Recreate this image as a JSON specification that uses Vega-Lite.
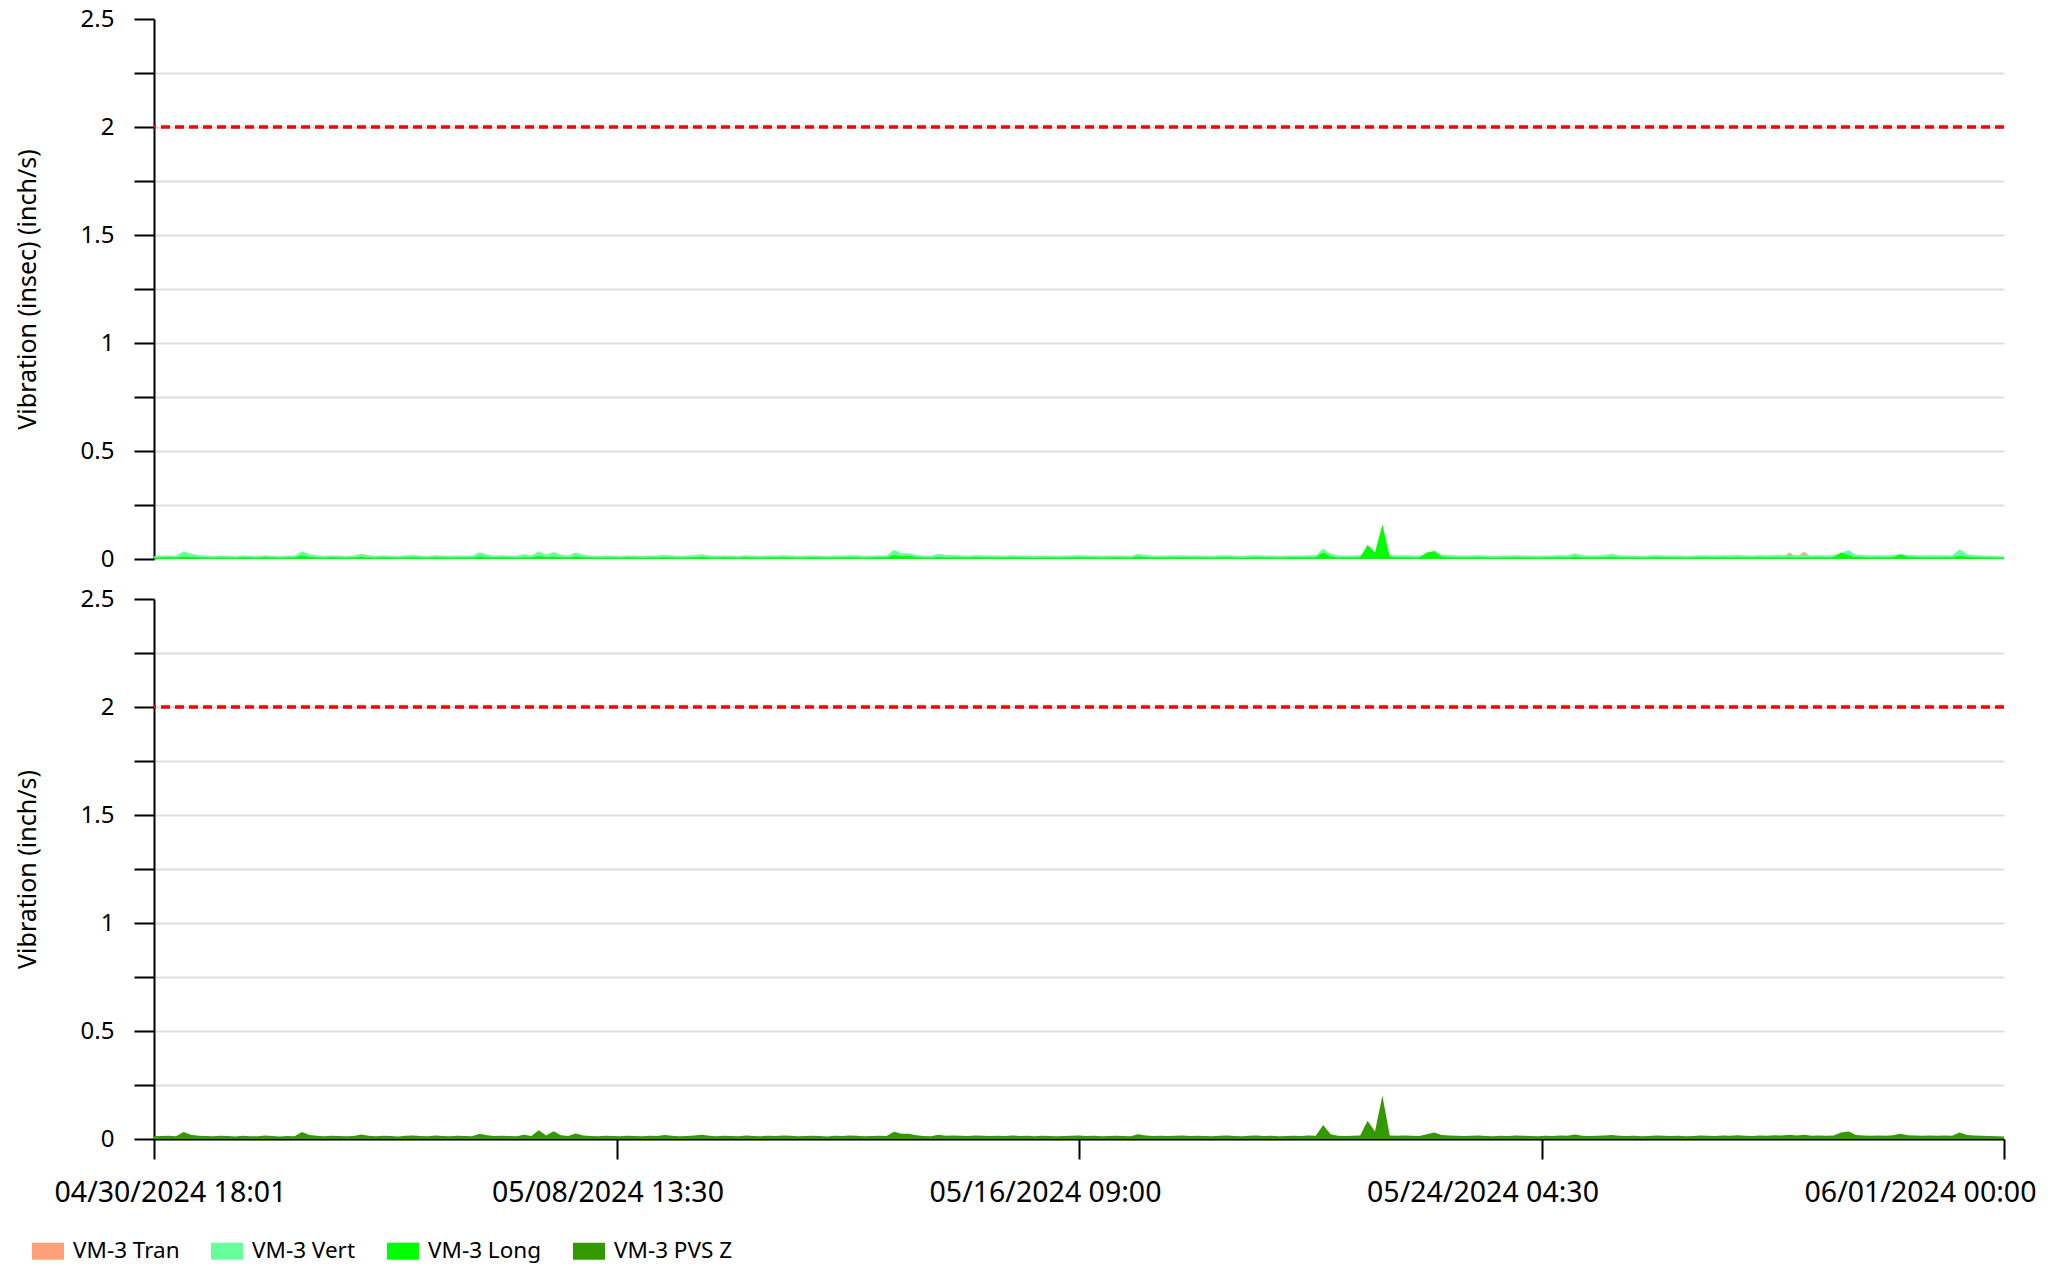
{
"$schema": "https://vega.github.io/schema/vega-lite/v6.json",
"padding": {"left": 15, "top": 7, "right": 5, "bottom": 5},
"config": {"font": "Noto Sans", "view": {"stroke": null}},
"data": {"values": [
{"t":"2024-04-30T18:01Z","a":0.004,"b":0.013,"c":0.007,"d":0.013},
{"t":"2024-04-30T21:00Z","a":0.004,"b":0.015,"c":0.007,"d":0.014},
{"t":"2024-05-01T00:00Z","a":0.005,"b":0.016,"c":0.008,"d":0.015},
{"t":"2024-05-01T03:00Z","a":0.004,"b":0.014,"c":0.007,"d":0.013},
{"t":"2024-05-01T06:00Z","a":0.03,"b":0.036,"c":0.012,"d":0.032},
{"t":"2024-05-01T09:00Z","a":0.008,"b":0.024,"c":0.009,"d":0.02},
{"t":"2024-05-01T12:00Z","a":0.005,"b":0.017,"c":0.008,"d":0.015},
{"t":"2024-05-01T15:00Z","a":0.004,"b":0.015,"c":0.007,"d":0.014},
{"t":"2024-05-01T18:00Z","a":0.004,"b":0.013,"c":0.006,"d":0.013},
{"t":"2024-05-01T21:00Z","a":0.005,"b":0.016,"c":0.007,"d":0.015},
{"t":"2024-05-02T00:00Z","a":0.004,"b":0.015,"c":0.007,"d":0.014},
{"t":"2024-05-02T03:00Z","a":0.004,"b":0.012,"c":0.006,"d":0.012},
{"t":"2024-05-02T06:00Z","a":0.005,"b":0.016,"c":0.008,"d":0.015},
{"t":"2024-05-02T09:00Z","a":0.004,"b":0.014,"c":0.007,"d":0.013},
{"t":"2024-05-02T12:00Z","a":0.004,"b":0.013,"c":0.006,"d":0.013},
{"t":"2024-05-02T15:00Z","a":0.005,"b":0.017,"c":0.008,"d":0.016},
{"t":"2024-05-02T18:00Z","a":0.004,"b":0.014,"c":0.007,"d":0.014},
{"t":"2024-05-02T21:00Z","a":0.004,"b":0.013,"c":0.006,"d":0.012},
{"t":"2024-05-03T00:00Z","a":0.004,"b":0.015,"c":0.007,"d":0.014},
{"t":"2024-05-03T03:00Z","a":0.004,"b":0.014,"c":0.007,"d":0.013},
{"t":"2024-05-03T06:00Z","a":0.006,"b":0.036,"c":0.016,"d":0.032},
{"t":"2024-05-03T09:00Z","a":0.005,"b":0.022,"c":0.009,"d":0.019},
{"t":"2024-05-03T12:00Z","a":0.004,"b":0.016,"c":0.007,"d":0.015},
{"t":"2024-05-03T15:00Z","a":0.004,"b":0.014,"c":0.006,"d":0.013},
{"t":"2024-05-03T18:00Z","a":0.005,"b":0.016,"c":0.008,"d":0.015},
{"t":"2024-05-03T21:00Z","a":0.004,"b":0.015,"c":0.007,"d":0.014},
{"t":"2024-05-04T00:00Z","a":0.004,"b":0.013,"c":0.006,"d":0.013},
{"t":"2024-05-04T03:00Z","a":0.004,"b":0.015,"c":0.007,"d":0.014},
{"t":"2024-05-04T06:00Z","a":0.005,"b":0.024,"c":0.009,"d":0.021},
{"t":"2024-05-04T09:00Z","a":0.004,"b":0.017,"c":0.007,"d":0.015},
{"t":"2024-05-04T12:00Z","a":0.004,"b":0.014,"c":0.006,"d":0.013},
{"t":"2024-05-04T15:00Z","a":0.005,"b":0.016,"c":0.008,"d":0.015},
{"t":"2024-05-04T18:00Z","a":0.004,"b":0.015,"c":0.007,"d":0.014},
{"t":"2024-05-04T21:00Z","a":0.004,"b":0.013,"c":0.006,"d":0.012},
{"t":"2024-05-05T00:00Z","a":0.004,"b":0.016,"c":0.007,"d":0.015},
{"t":"2024-05-05T03:00Z","a":0.005,"b":0.018,"c":0.008,"d":0.016},
{"t":"2024-05-05T06:00Z","a":0.004,"b":0.015,"c":0.007,"d":0.014},
{"t":"2024-05-05T09:00Z","a":0.004,"b":0.013,"c":0.006,"d":0.013},
{"t":"2024-05-05T12:00Z","a":0.005,"b":0.017,"c":0.008,"d":0.016},
{"t":"2024-05-05T15:00Z","a":0.004,"b":0.015,"c":0.007,"d":0.014},
{"t":"2024-05-05T18:00Z","a":0.004,"b":0.014,"c":0.006,"d":0.013},
{"t":"2024-05-05T21:00Z","a":0.005,"b":0.016,"c":0.007,"d":0.015},
{"t":"2024-05-06T00:00Z","a":0.004,"b":0.015,"c":0.007,"d":0.014},
{"t":"2024-05-06T03:00Z","a":0.004,"b":0.014,"c":0.007,"d":0.013},
{"t":"2024-05-06T06:00Z","a":0.005,"b":0.031,"c":0.012,"d":0.024},
{"t":"2024-05-06T09:00Z","a":0.004,"b":0.02,"c":0.008,"d":0.017},
{"t":"2024-05-06T12:00Z","a":0.004,"b":0.015,"c":0.007,"d":0.014},
{"t":"2024-05-06T15:00Z","a":0.005,"b":0.017,"c":0.008,"d":0.015},
{"t":"2024-05-06T18:00Z","a":0.004,"b":0.015,"c":0.007,"d":0.014},
{"t":"2024-05-06T21:00Z","a":0.004,"b":0.014,"c":0.006,"d":0.013},
{"t":"2024-05-07T00:00Z","a":0.004,"b":0.022,"c":0.008,"d":0.02},
{"t":"2024-05-07T03:00Z","a":0.004,"b":0.015,"c":0.007,"d":0.014},
{"t":"2024-05-07T06:00Z","a":0.005,"b":0.036,"c":0.014,"d":0.04},
{"t":"2024-05-07T09:00Z","a":0.004,"b":0.018,"c":0.008,"d":0.016},
{"t":"2024-05-07T12:00Z","a":0.005,"b":0.032,"c":0.012,"d":0.036},
{"t":"2024-05-07T15:00Z","a":0.004,"b":0.019,"c":0.008,"d":0.017},
{"t":"2024-05-07T18:00Z","a":0.004,"b":0.015,"c":0.007,"d":0.014},
{"t":"2024-05-07T21:00Z","a":0.005,"b":0.03,"c":0.011,"d":0.025},
{"t":"2024-05-08T00:00Z","a":0.004,"b":0.018,"c":0.008,"d":0.016},
{"t":"2024-05-08T03:00Z","a":0.004,"b":0.015,"c":0.007,"d":0.014},
{"t":"2024-05-08T06:00Z","a":0.004,"b":0.014,"c":0.006,"d":0.013},
{"t":"2024-05-08T09:00Z","a":0.005,"b":0.016,"c":0.007,"d":0.015},
{"t":"2024-05-08T12:00Z","a":0.004,"b":0.015,"c":0.007,"d":0.014},
{"t":"2024-05-08T15:00Z","a":0.004,"b":0.013,"c":0.006,"d":0.013},
{"t":"2024-05-08T18:00Z","a":0.005,"b":0.016,"c":0.008,"d":0.015},
{"t":"2024-05-08T21:00Z","a":0.004,"b":0.015,"c":0.007,"d":0.014},
{"t":"2024-05-09T00:00Z","a":0.004,"b":0.014,"c":0.006,"d":0.013},
{"t":"2024-05-09T03:00Z","a":0.005,"b":0.016,"c":0.007,"d":0.015},
{"t":"2024-05-09T06:00Z","a":0.004,"b":0.015,"c":0.007,"d":0.014},
{"t":"2024-05-09T09:00Z","a":0.012,"b":0.02,"c":0.008,"d":0.018},
{"t":"2024-05-09T12:00Z","a":0.005,"b":0.016,"c":0.007,"d":0.015},
{"t":"2024-05-09T15:00Z","a":0.004,"b":0.014,"c":0.006,"d":0.013},
{"t":"2024-05-09T18:00Z","a":0.004,"b":0.015,"c":0.007,"d":0.014},
{"t":"2024-05-09T21:00Z","a":0.005,"b":0.017,"c":0.008,"d":0.016},
{"t":"2024-05-10T00:00Z","a":0.004,"b":0.022,"c":0.009,"d":0.02},
{"t":"2024-05-10T03:00Z","a":0.004,"b":0.016,"c":0.007,"d":0.015},
{"t":"2024-05-10T06:00Z","a":0.004,"b":0.014,"c":0.006,"d":0.013},
{"t":"2024-05-10T09:00Z","a":0.005,"b":0.016,"c":0.008,"d":0.015},
{"t":"2024-05-10T12:00Z","a":0.004,"b":0.015,"c":0.007,"d":0.014},
{"t":"2024-05-10T15:00Z","a":0.004,"b":0.013,"c":0.006,"d":0.013},
{"t":"2024-05-10T18:00Z","a":0.005,"b":0.017,"c":0.008,"d":0.016},
{"t":"2024-05-10T21:00Z","a":0.004,"b":0.015,"c":0.007,"d":0.014},
{"t":"2024-05-11T00:00Z","a":0.004,"b":0.014,"c":0.006,"d":0.013},
{"t":"2024-05-11T03:00Z","a":0.005,"b":0.016,"c":0.007,"d":0.015},
{"t":"2024-05-11T06:00Z","a":0.004,"b":0.015,"c":0.007,"d":0.014},
{"t":"2024-05-11T09:00Z","a":0.004,"b":0.017,"c":0.008,"d":0.016},
{"t":"2024-05-11T12:00Z","a":0.005,"b":0.016,"c":0.007,"d":0.015},
{"t":"2024-05-11T15:00Z","a":0.004,"b":0.014,"c":0.006,"d":0.013},
{"t":"2024-05-11T18:00Z","a":0.004,"b":0.015,"c":0.007,"d":0.014},
{"t":"2024-05-11T21:00Z","a":0.005,"b":0.016,"c":0.008,"d":0.015},
{"t":"2024-05-12T00:00Z","a":0.004,"b":0.015,"c":0.007,"d":0.014},
{"t":"2024-05-12T03:00Z","a":0.004,"b":0.013,"c":0.006,"d":0.012},
{"t":"2024-05-12T06:00Z","a":0.005,"b":0.016,"c":0.007,"d":0.015},
{"t":"2024-05-12T09:00Z","a":0.004,"b":0.015,"c":0.007,"d":0.014},
{"t":"2024-05-12T12:00Z","a":0.004,"b":0.017,"c":0.008,"d":0.016},
{"t":"2024-05-12T15:00Z","a":0.005,"b":0.016,"c":0.007,"d":0.015},
{"t":"2024-05-12T18:00Z","a":0.004,"b":0.014,"c":0.006,"d":0.013},
{"t":"2024-05-12T21:00Z","a":0.004,"b":0.015,"c":0.007,"d":0.014},
{"t":"2024-05-13T00:00Z","a":0.005,"b":0.016,"c":0.008,"d":0.015},
{"t":"2024-05-13T03:00Z","a":0.004,"b":0.015,"c":0.007,"d":0.014},
{"t":"2024-05-13T06:00Z","a":0.005,"b":0.042,"c":0.018,"d":0.034},
{"t":"2024-05-13T09:00Z","a":0.005,"b":0.027,"c":0.011,"d":0.024},
{"t":"2024-05-13T12:00Z","a":0.005,"b":0.027,"c":0.015,"d":0.024},
{"t":"2024-05-13T15:00Z","a":0.004,"b":0.019,"c":0.008,"d":0.017},
{"t":"2024-05-13T18:00Z","a":0.004,"b":0.015,"c":0.007,"d":0.014},
{"t":"2024-05-13T21:00Z","a":0.004,"b":0.014,"c":0.006,"d":0.013},
{"t":"2024-05-14T00:00Z","a":0.005,"b":0.024,"c":0.009,"d":0.02},
{"t":"2024-05-14T03:00Z","a":0.004,"b":0.017,"c":0.007,"d":0.015},
{"t":"2024-05-14T06:00Z","a":0.004,"b":0.018,"c":0.008,"d":0.016},
{"t":"2024-05-14T09:00Z","a":0.005,"b":0.016,"c":0.007,"d":0.015},
{"t":"2024-05-14T12:00Z","a":0.004,"b":0.015,"c":0.007,"d":0.014},
{"t":"2024-05-14T15:00Z","a":0.004,"b":0.017,"c":0.008,"d":0.016},
{"t":"2024-05-14T18:00Z","a":0.005,"b":0.016,"c":0.007,"d":0.015},
{"t":"2024-05-14T21:00Z","a":0.004,"b":0.015,"c":0.007,"d":0.014},
{"t":"2024-05-15T00:00Z","a":0.004,"b":0.016,"c":0.007,"d":0.015},
{"t":"2024-05-15T03:00Z","a":0.005,"b":0.015,"c":0.007,"d":0.014},
{"t":"2024-05-15T06:00Z","a":0.004,"b":0.017,"c":0.008,"d":0.016},
{"t":"2024-05-15T09:00Z","a":0.004,"b":0.015,"c":0.007,"d":0.014},
{"t":"2024-05-15T12:00Z","a":0.005,"b":0.016,"c":0.007,"d":0.015},
{"t":"2024-05-15T15:00Z","a":0.004,"b":0.014,"c":0.006,"d":0.013},
{"t":"2024-05-15T18:00Z","a":0.004,"b":0.016,"c":0.007,"d":0.015},
{"t":"2024-05-15T21:00Z","a":0.005,"b":0.015,"c":0.007,"d":0.014},
{"t":"2024-05-16T00:00Z","a":0.004,"b":0.014,"c":0.006,"d":0.013},
{"t":"2024-05-16T03:00Z","a":0.004,"b":0.015,"c":0.007,"d":0.014},
{"t":"2024-05-16T06:00Z","a":0.005,"b":0.016,"c":0.007,"d":0.015},
{"t":"2024-05-16T09:00Z","a":0.004,"b":0.017,"c":0.008,"d":0.016},
{"t":"2024-05-16T12:00Z","a":0.004,"b":0.015,"c":0.007,"d":0.014},
{"t":"2024-05-16T15:00Z","a":0.005,"b":0.016,"c":0.007,"d":0.015},
{"t":"2024-05-16T18:00Z","a":0.004,"b":0.014,"c":0.006,"d":0.013},
{"t":"2024-05-16T21:00Z","a":0.004,"b":0.015,"c":0.007,"d":0.014},
{"t":"2024-05-17T00:00Z","a":0.005,"b":0.016,"c":0.008,"d":0.015},
{"t":"2024-05-17T03:00Z","a":0.004,"b":0.015,"c":0.007,"d":0.014},
{"t":"2024-05-17T06:00Z","a":0.004,"b":0.014,"c":0.006,"d":0.013},
{"t":"2024-05-17T09:00Z","a":0.005,"b":0.024,"c":0.012,"d":0.022},
{"t":"2024-05-17T12:00Z","a":0.004,"b":0.017,"c":0.008,"d":0.016},
{"t":"2024-05-17T15:00Z","a":0.004,"b":0.015,"c":0.007,"d":0.014},
{"t":"2024-05-17T18:00Z","a":0.005,"b":0.016,"c":0.007,"d":0.015},
{"t":"2024-05-17T21:00Z","a":0.004,"b":0.015,"c":0.007,"d":0.014},
{"t":"2024-05-18T00:00Z","a":0.004,"b":0.016,"c":0.007,"d":0.015},
{"t":"2024-05-18T03:00Z","a":0.005,"b":0.017,"c":0.008,"d":0.016},
{"t":"2024-05-18T06:00Z","a":0.004,"b":0.015,"c":0.007,"d":0.014},
{"t":"2024-05-18T09:00Z","a":0.004,"b":0.016,"c":0.007,"d":0.015},
{"t":"2024-05-18T12:00Z","a":0.005,"b":0.015,"c":0.007,"d":0.014},
{"t":"2024-05-18T15:00Z","a":0.004,"b":0.014,"c":0.006,"d":0.013},
{"t":"2024-05-18T18:00Z","a":0.004,"b":0.016,"c":0.007,"d":0.015},
{"t":"2024-05-18T21:00Z","a":0.005,"b":0.017,"c":0.008,"d":0.016},
{"t":"2024-05-19T00:00Z","a":0.004,"b":0.015,"c":0.007,"d":0.014},
{"t":"2024-05-19T03:00Z","a":0.004,"b":0.014,"c":0.006,"d":0.013},
{"t":"2024-05-19T06:00Z","a":0.005,"b":0.016,"c":0.007,"d":0.015},
{"t":"2024-05-19T09:00Z","a":0.004,"b":0.017,"c":0.008,"d":0.016},
{"t":"2024-05-19T12:00Z","a":0.004,"b":0.015,"c":0.007,"d":0.014},
{"t":"2024-05-19T15:00Z","a":0.005,"b":0.016,"c":0.007,"d":0.015},
{"t":"2024-05-19T18:00Z","a":0.004,"b":0.014,"c":0.006,"d":0.013},
{"t":"2024-05-19T21:00Z","a":0.004,"b":0.015,"c":0.007,"d":0.014},
{"t":"2024-05-20T00:00Z","a":0.005,"b":0.016,"c":0.008,"d":0.015},
{"t":"2024-05-20T03:00Z","a":0.004,"b":0.015,"c":0.007,"d":0.014},
{"t":"2024-05-20T06:00Z","a":0.004,"b":0.017,"c":0.008,"d":0.016},
{"t":"2024-05-20T09:00Z","a":0.005,"b":0.016,"c":0.007,"d":0.015},
{"t":"2024-05-20T12:00Z","a":0.006,"b":0.047,"c":0.03,"d":0.065},
{"t":"2024-05-20T15:00Z","a":0.005,"b":0.024,"c":0.012,"d":0.022},
{"t":"2024-05-20T18:00Z","a":0.004,"b":0.016,"c":0.007,"d":0.015},
{"t":"2024-05-20T21:00Z","a":0.004,"b":0.015,"c":0.007,"d":0.014},
{"t":"2024-05-21T00:00Z","a":0.005,"b":0.016,"c":0.007,"d":0.015},
{"t":"2024-05-21T03:00Z","a":0.004,"b":0.017,"c":0.008,"d":0.016},
{"t":"2024-05-21T06:00Z","a":0.005,"b":0.03,"c":0.065,"d":0.085},
{"t":"2024-05-21T09:00Z","a":0.004,"b":0.02,"c":0.03,"d":0.035},
{"t":"2024-05-21T12:00Z","a":0.025,"b":0.04,"c":0.16,"d":0.2},
{"t":"2024-05-21T15:00Z","a":0.005,"b":0.018,"c":0.01,"d":0.016},
{"t":"2024-05-21T18:00Z","a":0.004,"b":0.016,"c":0.007,"d":0.015},
{"t":"2024-05-21T21:00Z","a":0.005,"b":0.017,"c":0.008,"d":0.016},
{"t":"2024-05-22T00:00Z","a":0.004,"b":0.016,"c":0.007,"d":0.015},
{"t":"2024-05-22T03:00Z","a":0.004,"b":0.015,"c":0.007,"d":0.014},
{"t":"2024-05-22T06:00Z","a":0.005,"b":0.018,"c":0.03,"d":0.022},
{"t":"2024-05-22T09:00Z","a":0.006,"b":0.04,"c":0.035,"d":0.03},
{"t":"2024-05-22T12:00Z","a":0.005,"b":0.02,"c":0.01,"d":0.018},
{"t":"2024-05-22T15:00Z","a":0.02,"b":0.018,"c":0.008,"d":0.016},
{"t":"2024-05-22T18:00Z","a":0.005,"b":0.016,"c":0.007,"d":0.015},
{"t":"2024-05-22T21:00Z","a":0.004,"b":0.015,"c":0.007,"d":0.014},
{"t":"2024-05-23T00:00Z","a":0.004,"b":0.016,"c":0.007,"d":0.015},
{"t":"2024-05-23T03:00Z","a":0.005,"b":0.017,"c":0.008,"d":0.016},
{"t":"2024-05-23T06:00Z","a":0.004,"b":0.015,"c":0.007,"d":0.014},
{"t":"2024-05-23T09:00Z","a":0.004,"b":0.014,"c":0.006,"d":0.013},
{"t":"2024-05-23T12:00Z","a":0.005,"b":0.016,"c":0.007,"d":0.015},
{"t":"2024-05-23T15:00Z","a":0.004,"b":0.015,"c":0.007,"d":0.014},
{"t":"2024-05-23T18:00Z","a":0.004,"b":0.017,"c":0.008,"d":0.016},
{"t":"2024-05-23T21:00Z","a":0.005,"b":0.016,"c":0.007,"d":0.015},
{"t":"2024-05-24T00:00Z","a":0.004,"b":0.015,"c":0.007,"d":0.014},
{"t":"2024-05-24T03:00Z","a":0.004,"b":0.014,"c":0.006,"d":0.013},
{"t":"2024-05-24T06:00Z","a":0.005,"b":0.016,"c":0.007,"d":0.015},
{"t":"2024-05-24T09:00Z","a":0.004,"b":0.015,"c":0.007,"d":0.014},
{"t":"2024-05-24T12:00Z","a":0.004,"b":0.017,"c":0.008,"d":0.016},
{"t":"2024-05-24T15:00Z","a":0.005,"b":0.016,"c":0.007,"d":0.015},
{"t":"2024-05-24T18:00Z","a":0.005,"b":0.026,"c":0.01,"d":0.021},
{"t":"2024-05-24T21:00Z","a":0.004,"b":0.017,"c":0.007,"d":0.015},
{"t":"2024-05-25T00:00Z","a":0.004,"b":0.015,"c":0.007,"d":0.014},
{"t":"2024-05-25T03:00Z","a":0.005,"b":0.016,"c":0.007,"d":0.015},
{"t":"2024-05-25T06:00Z","a":0.004,"b":0.017,"c":0.008,"d":0.016},
{"t":"2024-05-25T09:00Z","a":0.005,"b":0.024,"c":0.009,"d":0.019},
{"t":"2024-05-25T12:00Z","a":0.004,"b":0.016,"c":0.007,"d":0.015},
{"t":"2024-05-25T15:00Z","a":0.004,"b":0.015,"c":0.007,"d":0.014},
{"t":"2024-05-25T18:00Z","a":0.005,"b":0.016,"c":0.007,"d":0.015},
{"t":"2024-05-25T21:00Z","a":0.004,"b":0.014,"c":0.006,"d":0.013},
{"t":"2024-05-26T00:00Z","a":0.004,"b":0.015,"c":0.007,"d":0.014},
{"t":"2024-05-26T03:00Z","a":0.005,"b":0.017,"c":0.008,"d":0.016},
{"t":"2024-05-26T06:00Z","a":0.004,"b":0.016,"c":0.007,"d":0.015},
{"t":"2024-05-26T09:00Z","a":0.004,"b":0.015,"c":0.007,"d":0.014},
{"t":"2024-05-26T12:00Z","a":0.005,"b":0.016,"c":0.007,"d":0.015},
{"t":"2024-05-26T15:00Z","a":0.004,"b":0.014,"c":0.006,"d":0.013},
{"t":"2024-05-26T18:00Z","a":0.004,"b":0.015,"c":0.007,"d":0.014},
{"t":"2024-05-26T21:00Z","a":0.005,"b":0.017,"c":0.008,"d":0.016},
{"t":"2024-05-27T00:00Z","a":0.004,"b":0.016,"c":0.007,"d":0.015},
{"t":"2024-05-27T03:00Z","a":0.004,"b":0.015,"c":0.007,"d":0.014},
{"t":"2024-05-27T06:00Z","a":0.005,"b":0.017,"c":0.008,"d":0.016},
{"t":"2024-05-27T09:00Z","a":0.004,"b":0.016,"c":0.007,"d":0.015},
{"t":"2024-05-27T12:00Z","a":0.004,"b":0.018,"c":0.008,"d":0.017},
{"t":"2024-05-27T15:00Z","a":0.005,"b":0.016,"c":0.007,"d":0.015},
{"t":"2024-05-27T18:00Z","a":0.004,"b":0.015,"c":0.007,"d":0.014},
{"t":"2024-05-27T21:00Z","a":0.004,"b":0.017,"c":0.008,"d":0.016},
{"t":"2024-05-28T00:00Z","a":0.005,"b":0.016,"c":0.007,"d":0.015},
{"t":"2024-05-28T03:00Z","a":0.004,"b":0.018,"c":0.008,"d":0.017},
{"t":"2024-05-28T06:00Z","a":0.004,"b":0.017,"c":0.007,"d":0.016},
{"t":"2024-05-28T09:00Z","a":0.03,"b":0.019,"c":0.008,"d":0.02},
{"t":"2024-05-28T12:00Z","a":0.008,"b":0.017,"c":0.007,"d":0.016},
{"t":"2024-05-28T15:00Z","a":0.034,"b":0.019,"c":0.008,"d":0.02},
{"t":"2024-05-28T18:00Z","a":0.008,"b":0.016,"c":0.007,"d":0.015},
{"t":"2024-05-28T21:00Z","a":0.004,"b":0.017,"c":0.008,"d":0.016},
{"t":"2024-05-29T00:00Z","a":0.004,"b":0.016,"c":0.007,"d":0.015},
{"t":"2024-05-29T03:00Z","a":0.005,"b":0.017,"c":0.008,"d":0.016},
{"t":"2024-05-29T06:00Z","a":0.006,"b":0.028,"c":0.03,"d":0.03},
{"t":"2024-05-29T09:00Z","a":0.006,"b":0.04,"c":0.015,"d":0.035},
{"t":"2024-05-29T12:00Z","a":0.005,"b":0.02,"c":0.009,"d":0.018},
{"t":"2024-05-29T15:00Z","a":0.004,"b":0.017,"c":0.008,"d":0.016},
{"t":"2024-05-29T18:00Z","a":0.004,"b":0.016,"c":0.007,"d":0.015},
{"t":"2024-05-29T21:00Z","a":0.005,"b":0.017,"c":0.008,"d":0.016},
{"t":"2024-05-30T00:00Z","a":0.004,"b":0.016,"c":0.007,"d":0.015},
{"t":"2024-05-30T03:00Z","a":0.004,"b":0.018,"c":0.008,"d":0.017},
{"t":"2024-05-30T06:00Z","a":0.005,"b":0.02,"c":0.022,"d":0.024},
{"t":"2024-05-30T09:00Z","a":0.004,"b":0.018,"c":0.009,"d":0.017},
{"t":"2024-05-30T12:00Z","a":0.004,"b":0.017,"c":0.008,"d":0.016},
{"t":"2024-05-30T15:00Z","a":0.005,"b":0.016,"c":0.007,"d":0.015},
{"t":"2024-05-30T18:00Z","a":0.004,"b":0.017,"c":0.008,"d":0.016},
{"t":"2024-05-30T21:00Z","a":0.004,"b":0.016,"c":0.007,"d":0.015},
{"t":"2024-05-31T00:00Z","a":0.005,"b":0.017,"c":0.008,"d":0.016},
{"t":"2024-05-31T03:00Z","a":0.004,"b":0.016,"c":0.007,"d":0.015},
{"t":"2024-05-31T06:00Z","a":0.005,"b":0.045,"c":0.014,"d":0.03},
{"t":"2024-05-31T09:00Z","a":0.004,"b":0.022,"c":0.009,"d":0.019},
{"t":"2024-05-31T12:00Z","a":0.004,"b":0.017,"c":0.008,"d":0.016},
{"t":"2024-05-31T15:00Z","a":0.005,"b":0.016,"c":0.007,"d":0.015},
{"t":"2024-05-31T18:00Z","a":0.004,"b":0.015,"c":0.007,"d":0.014},
{"t":"2024-05-31T21:00Z","a":0.004,"b":0.014,"c":0.006,"d":0.013},
{"t":"2024-06-01T00:00Z","a":0.004,"b":0.013,"c":0.006,"d":0.012}
]},
"transform": [{"fold": ["a", "b", "c", "d"], "as": ["k", "v"]}],
"spacing": 16,
"vconcat": [
{
"width": 1850, "height": 540,
"layer": [
{
"transform": [{"filter": "datum.k != 'd'"}],
"mark": {"type": "area", "opacity": 1},
"encoding": {
"x": {"field": "t", "type": "temporal", "scale": {"type": "utc", "nice": false, "domain": [{"year": 2024, "month": 4, "date": 30, "hours": 18, "minutes": 1, "utc": true}, {"year": 2024, "month": 6, "date": 1, "utc": true}]}, "axis": null},
"y": {"field": "v", "type": "quantitative", "stack": null, "scale": {"domain": [0, 2.5], "nice": false},
"axis": {"values": [0, 0.25, 0.5, 0.75, 1, 1.25, 1.5, 1.75, 2, 2.25, 2.5], "format": "~g", "labelExpr": "datum.value % 0.5 == 0 ? datum.label : ''", "tickSize": 20, "tickColor": "black", "tickWidth": 2, "domainColor": "black", "domainWidth": 2, "labelFontSize": 24, "labelPadding": 20, "labelColor": "black", "gridColor": "#dedede", "gridWidth": 2, "gridOpacity": {"condition": {"test": "datum.value == 2.5", "value": 0}, "value": 1}, "title": "Vibration (insec) (inch/s)", "titleFontSize": 25, "titleFontWeight": "normal", "titleColor": "black", "titlePadding": 40}},
"color": {"field": "k", "type": "nominal", "scale": {"domain": ["a", "b", "c", "d"], "range": ["#FFA07A", "#66FF99", "#00FF00", "#339900"]},
"legend": {"orient": "none", "legendX": -122, "legendY": 1216, "direction": "horizontal", "title": null, "labelExpr": "datum.label == 'a' ? 'VM-3 Tran' : datum.label == 'b' ? 'VM-3 Vert' : datum.label == 'c' ? 'VM-3 Long' : 'VM-3 PVS Z'", "labelFontSize": 22.5, "labelColor": "black", "symbolType": "M-1,-0.53H1V0.53H-1Z", "symbolSize": 1024, "symbolStrokeWidth": 0, "symbolOpacity": 1, "columnPadding": 31, "labelOffset": 9}}
}
},
{
"data": {"values": [{"limit": 2}]},
"mark": {"type": "rule", "color": "#FF0000", "strokeDash": [9, 5], "strokeWidth": 3.5},
"encoding": {"y": {"field": "limit", "type": "quantitative"}}
}
]
},
{
"width": 1850, "height": 540,
"layer": [
{
"transform": [{"filter": "datum.k == 'd'"}],
"mark": {"type": "area", "opacity": 1},
"encoding": {
"x": {"field": "t", "type": "temporal", "scale": {"type": "utc", "nice": false, "domain": [{"year": 2024, "month": 4, "date": 30, "hours": 18, "minutes": 1, "utc": true}, {"year": 2024, "month": 6, "date": 1, "utc": true}]},
"axis": {"values": [{"year": 2024, "month": 4, "date": 30, "hours": 18, "minutes": 1, "utc": true}, {"year": 2024, "month": 5, "date": 8, "hours": 13, "minutes": 30, "seconds": 45, "utc": true}, {"year": 2024, "month": 5, "date": 16, "hours": 9, "minutes": 0, "seconds": 30, "utc": true}, {"year": 2024, "month": 5, "date": 24, "hours": 4, "minutes": 30, "seconds": 15, "utc": true}, {"year": 2024, "month": 6, "date": 1, "utc": true}], "format": "%m/%d/%Y %H:%M", "tickSize": 20, "tickWidth": 2, "tickColor": "black", "domainColor": "black", "domainWidth": 2, "labelFontSize": 28.5, "labelColor": "black", "labelPadding": 19, "labelLimit": 0, "grid": false, "title": null, "labelFlush": false, "labelOverlap": false,
"labelOffset": {"condition": [{"test": "datum.value < 1714780800000", "value": 16}, {"test": "datum.value < 1715472000000", "value": -9}, {"test": "datum.value < 1716163200000", "value": -34}, {"test": "datum.value < 1716854400000", "value": -59}], "value": -84}}},
"y": {"field": "v", "type": "quantitative", "stack": null, "scale": {"domain": [0, 2.5], "nice": false},
"axis": {"values": [0, 0.25, 0.5, 0.75, 1, 1.25, 1.5, 1.75, 2, 2.25, 2.5], "format": "~g", "labelExpr": "datum.value % 0.5 == 0 ? datum.label : ''", "tickSize": 20, "tickColor": "black", "tickWidth": 2, "domainColor": "black", "domainWidth": 2, "labelFontSize": 24, "labelPadding": 20, "labelColor": "black", "gridColor": "#dedede", "gridWidth": 2, "gridOpacity": {"condition": {"test": "datum.value == 2.5", "value": 0}, "value": 1}, "title": "Vibration (inch/s)", "titleFontSize": 25, "titleFontWeight": "normal", "titleColor": "black", "titlePadding": 40}},
"color": {"field": "k", "type": "nominal"}
}
},
{
"data": {"values": [{"limit": 2}]},
"mark": {"type": "rule", "color": "#FF0000", "strokeDash": [9, 5], "strokeWidth": 3.5},
"encoding": {"y": {"field": "limit", "type": "quantitative"}}
}
]
}
]
}
